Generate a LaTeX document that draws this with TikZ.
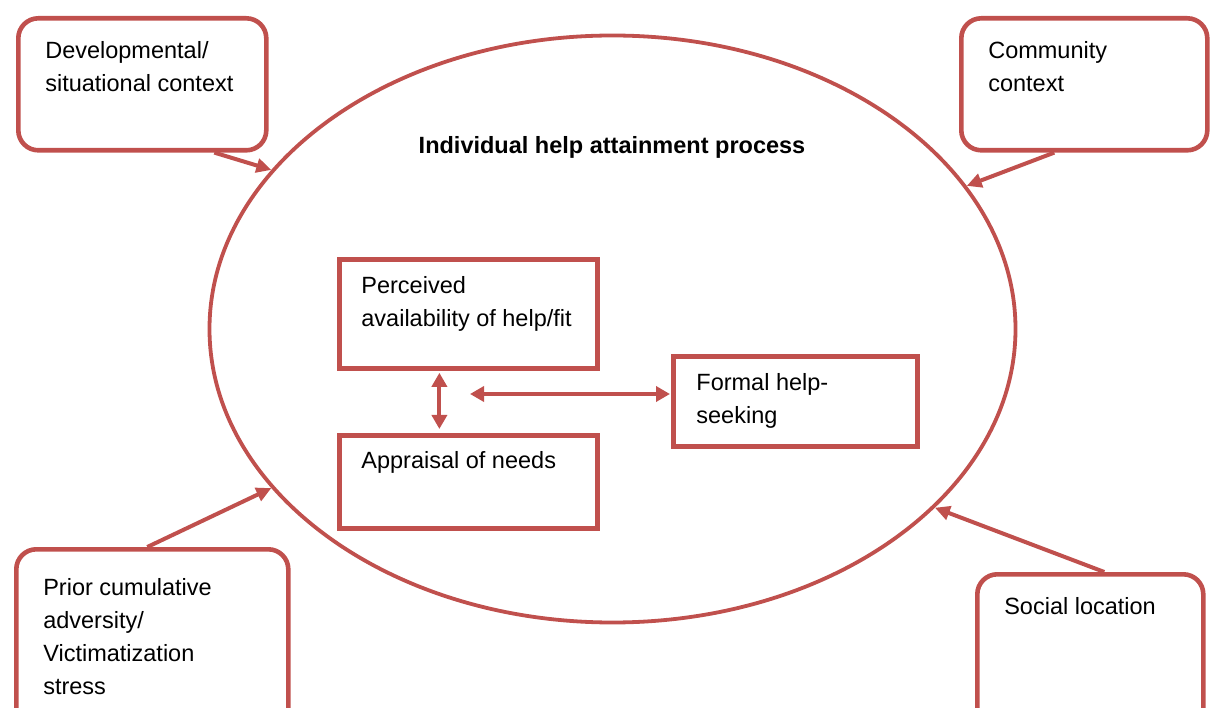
\documentclass[tikz,border=0pt]{standalone}
\usepackage{fontspec}
\setmainfont{Liberation Sans}
\usepackage{xcolor}
\usetikzlibrary{arrows.meta,positioning,shapes.geometric}
\definecolor{accred}{HTML}{C0504D}
\newcommand{\boxtext}[3]{\parbox[t][#2][t]{#1}{\raggedright\strut #3}}

\begin{document}
\begin{tikzpicture}[
  x=1pt, y=-1pt,
  font=\fontsize{23.5}{33}\selectfont,
  ctxbox/.style={draw=accred, line width=4.6pt, rounded corners=20pt,
                 anchor=north west, inner xsep=27pt, inner ysep=17pt},
  procbox/.style={draw=accred, line width=4.8pt, anchor=north west,
                  inner xsep=22pt, inner ysep=11pt},
  outline/.style={ellipse, draw=accred, line width=3.8pt, inner sep=0pt},
  arr/.style={-{Triangle[length=15pt,width=14pt]}, draw=accred, line width=4pt},
  dblarr/.style={{Triangle[length=14pt,width=15pt]}-{Triangle[length=14pt,width=15pt]},
                 draw=accred, line width=4pt},
]
\useasboundingbox (0,0) rectangle (1211,708);

% process ellipse
\node[outline, minimum width=806pt, minimum height=587pt] (ell) at (612.5,329) {};
\node[font=\fontsize{23.5}{33}\selectfont\bfseries] (title) at (612,147)
  {Individual help attainment process};

% context boxes
\node[ctxbox] (devctx) at (16,16)
  {\boxtext{194pt}{98pt}{Developmental/\\situational context}};
\node[ctxbox] (commctx) at (959,16)
  {\boxtext{192pt}{98pt}{Community\\context}};
\node[ctxbox, inner ysep=23pt] (prior) at (14,547)
  {\boxtext{218pt}{136pt}{Prior cumulative\\adversity/\\Victimatization\\stress}};
\node[ctxbox] (socloc) at (975,572)
  {\boxtext{172pt}{124pt}{Social location}};

% inner process
\node[procbox] (percv) at (337,257)
  {\boxtext{214pt}{87pt}{Perceived\\availability of help/fit}};
\node[procbox, inner ysep=10pt] (apprs) at (337,433)
  {\boxtext{214pt}{73pt}{Appraisal of needs}};
\node[procbox, inner xsep=23pt] (formal) at (671,354)
  {\boxtext{198pt}{68pt}{Formal help-\\seeking}};
\coordinate (hub) at (470,394);

\draw[arr] ([xshift=72pt]devctx.south) -- (ell.155);
\draw[arr] ([xshift=-30pt]commctx.south) -- (ell.22);
\draw[arr] ([xshift=-5pt]prior.north) -- (ell.205);
\draw[arr] ([xshift=14pt]socloc.north) -- (ell.331);

\draw[dblarr, shorten <=2pt, shorten >=4pt] ([xshift=-29pt]percv.south) -- ([xshift=-29pt]apprs.north);
\draw[dblarr, shorten >=1pt] (hub) -- (hub -| formal.west);
\end{tikzpicture}
\end{document}
